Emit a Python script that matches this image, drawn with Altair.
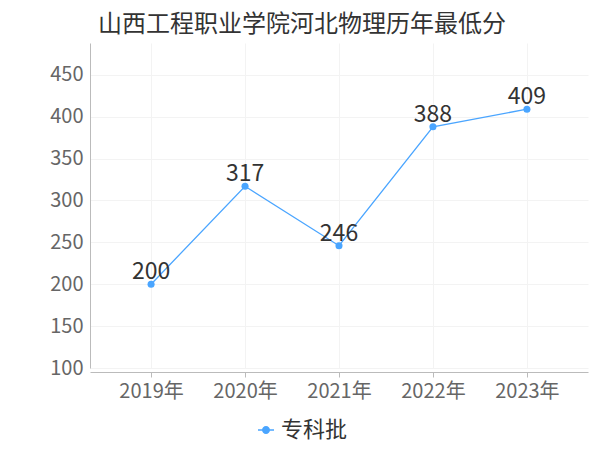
import altair as alt
import pandas as pd

years = ["2019年", "2020年", "2021年", "2022年", "2023年"]
scores = [200, 317, 246, 388, 409]
series = ["专科批"] * 5
y_ticks = [100, 150, 200, 250, 300, 350, 400, 450]

df = pd.DataFrame({"year": years, "score": scores, "series": series})

FONT = "Noto Sans CJK SC"
BLUE = "#4aa5ff"

legend_path = ("M-1,-0.09 L1,-0.09 L1,0.09 L-1,0.09 Z "
               "M0.5,0 A0.5,0.5 0 1,1 -0.5,0 A0.5,0.5 0 1,1 0.5,0 Z")

x_enc = alt.X("year:N", sort=years, title=None,
              scale=alt.Scale(type="point", padding=0.65),
              axis=alt.Axis(labelAngle=0, labelFontSize=20, labelColor="#666",
                            labelFont=FONT, domainColor="#bbb", tickColor="#bbb",
                            tickSize=5, labelPadding=4, offset=4,
                            grid=True, gridColor="#f3f3f3"))
y_enc = alt.Y("score:Q", title=None,
              scale=alt.Scale(domain=[100, 488], nice=False, zero=False),
              axis=alt.Axis(values=y_ticks, labelFontSize=20, labelColor="#666",
                            labelFont=FONT, domainColor="#bbb", ticks=False,
                            labelPadding=7, grid=True, gridColor="#f3f3f3"))

base = alt.Chart(df).encode(x=x_enc, y=y_enc)

line = base.mark_line(strokeWidth=1.3).encode(
    color=alt.Color("series:N", title=None,
                    scale=alt.Scale(range=[BLUE]),
                    legend=alt.Legend(orient="none", legendX=165, legendY=376,
                                      symbolType=legend_path, symbolSize=256,
                                      symbolStrokeWidth=0, symbolFillColor=BLUE,
                                      labelFontSize=22, labelColor="#333",
                                      labelFont=FONT, labelOffset=4))
)
points = base.mark_circle(size=50, opacity=1, color=BLUE)
labels = base.mark_text(fontSize=23, color="#333", font=FONT, baseline="alphabetic",
                        dy=-5).encode(text="score:Q")

chart = (line + points + labels).properties(
    width=498, height=325,
    autosize=alt.AutoSizeParams(type="none"),
    padding={"left": 82, "top": 35, "right": 4, "bottom": 78},
    title=alt.TitleParams("山西工程职业学院河北物理历年最低分", anchor="start",
                          frame="group",
                          fontSize=24, font=FONT, fontWeight="normal",
                          color="#333", dx=8, offset=6),
).configure_view(stroke=None)

chart.save("out.html", embed_options={"renderer": "svg", "actions": False})
